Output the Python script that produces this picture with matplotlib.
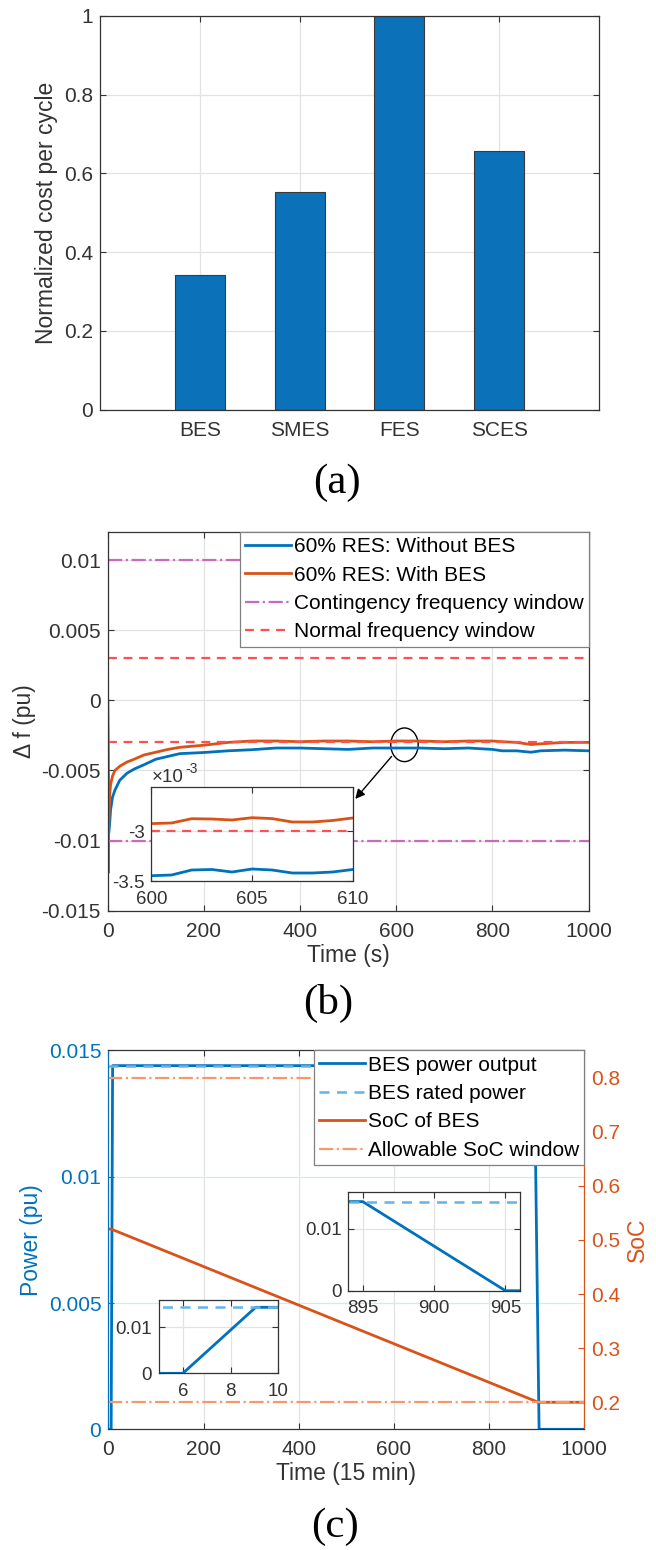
import numpy as np
import matplotlib.pyplot as plt
from matplotlib.patches import Ellipse

plt.rcParams['font.family'] = ['Liberation Sans', 'DejaVu Sans']
plt.rcParams['axes.unicode_minus'] = False

# (a) kustannukset
tekniikat = ['BES', 'SMES', 'FES', 'SCES']
kustannus = [0.341, 0.552, 1.0, 0.657]

# (b) taajuuspoikkeama
t_b = [0, 1, 2, 4, 6, 10, 15, 25, 40, 55, 75, 100, 125, 150, 200, 250, 300, 350, 400,
       450, 500, 550, 600, 650, 700, 750, 800, 820, 850, 880, 900, 950, 1000]
df_ilman = [0, -0.004, -0.0095, -0.0088, -0.0078, -0.0069, -0.0064, -0.0057, -0.0052, -0.0049,
            -0.0046, -0.0042, -0.0040, -0.0038, -0.00372, -0.0036, -0.00352, -0.0034, -0.0034,
            -0.00345, -0.0035, -0.0034, -0.0034, -0.0034, -0.00345, -0.0034, -0.0035, -0.0036,
            -0.0036, -0.0037, -0.0036, -0.00355, -0.0036]
df_kanssa = [0, -0.0123, -0.0090, -0.0068, -0.0060, -0.0054, -0.0050, -0.0047, -0.0044, -0.0042,
             -0.0039, -0.0037, -0.0035, -0.00335, -0.0032, -0.0030, -0.0029, -0.0029, -0.00295,
             -0.0029, -0.0029, -0.00295, -0.0029, -0.0029, -0.00295, -0.0029, -0.0029, -0.00295,
             -0.0030, -0.00315, -0.0031, -0.0030, -0.0030]
t_zoom = [600, 601, 602, 603, 604, 605, 606, 607, 608, 609, 610]
zoom_ilman = [-3.447e-3, -3.44e-3, -3.39e-3, -3.385e-3, -3.41e-3, -3.38e-3, -3.39e-3, -3.42e-3,
              -3.42e-3, -3.41e-3, -3.385e-3]
zoom_kanssa = [-2.926e-3, -2.92e-3, -2.877e-3, -2.88e-3, -2.89e-3, -2.867e-3, -2.876e-3, -2.91e-3,
               -2.91e-3, -2.895e-3, -2.87e-3]
hataraja = [0.01, -0.01]
normaaliraja = [0.003, -0.003]

# (c) akun teho ja varaustila
t_c = [0, 6, 9.05, 895, 905, 1000]
teho = [0, 0, 0.0144, 0.0144, 0, 0]
nimellisteho = 0.0144
t_soc = [0, 6, 903, 1000]
soc = [0.52, 0.52, 0.2, 0.2]
soc_raja = [0.8, 0.2]

sininen = '#0072BD'
oranssi = '#D95319'
harmaa = '#333333'
ruudukko = '#e3e3e3'


def muotoile(ax, koko=15, xpad=8, ypad=5):
    ax.tick_params(direction='in', top=True, right=True, labelsize=koko, colors=harmaa,
                   length=4, width=0.8)
    ax.tick_params(axis='x', pad=xpad)
    ax.tick_params(axis='y', pad=ypad)
    for s in ax.spines.values():
        s.set_color(harmaa)
        s.set_linewidth(0.9)
    ax.grid(True, color=ruudukko, linewidth=0.9)
    ax.set_axisbelow(True)


def selite(ax, kahvat, tekstit):
    leg = ax.legend(kahvat, tekstit, loc='upper right', fontsize=15, fancybox=False,
                    framealpha=1, edgecolor='#808080', borderaxespad=0, handlelength=2.2,
                    handletextpad=0.15, labelspacing=0.45, borderpad=0.25)
    leg.get_frame().set_linewidth(0.9)
    return leg


fig = plt.figure(figsize=(6.56, 15.5), dpi=100)

# ---------- (a)
ax_a = fig.add_axes([0.1524, 0.7358, 0.7607, 0.2539])
ax_a.bar(np.arange(1, 5), kustannus, width=0.5, color='#0B72BA', edgecolor='#3a3a3a', linewidth=0.8)
ax_a.set_xlim(0, 5)
ax_a.set_ylim(0, 1)
ax_a.set_xticks(np.arange(1, 5))
ax_a.set_xticklabels(tekniikat)
ax_a.set_yticks([0, 0.2, 0.4, 0.6, 0.8, 1])
ax_a.set_yticklabels(['0', '0.2', '0.4', '0.6', '0.8', '1'])
muotoile(ax_a)
ax_a.set_ylabel('Normalized cost per cycle', fontsize=16.5, color=harmaa)
fig.text(0.5137, 0.6884, '(a)', fontsize=31, family='Liberation Serif', ha='center', va='center')

# ---------- (b)
ax_b = fig.add_axes([0.1642, 0.41245, 0.7332, 0.2443])
l1, = ax_b.plot(t_b, df_ilman, color=sininen, linewidth=2)
l2, = ax_b.plot(t_b, df_kanssa, color=oranssi, linewidth=2)
l3 = None
for r in hataraja:
    l3, = ax_b.plot([0, 1000], [r, r], color='#C86BBA', linestyle='-.', linewidth=1.6)
for r in normaaliraja:
    l4, = ax_b.plot([0, 1000], [r, r], color='#FF4F4F', linestyle='--', linewidth=1.6, dashes=(4, 3))
ax_b.set_xlim(0, 1000)
ax_b.set_ylim(-0.015, 0.012)
ax_b.set_xticks([0, 200, 400, 600, 800, 1000])
ax_b.set_yticks([-0.015, -0.01, -0.005, 0, 0.005, 0.01])
ax_b.set_yticklabels(['-0.015', '-0.01', '-0.005', '0', '0.005', '0.01'])
muotoile(ax_b)
ax_b.set_xlabel('Time (s)', fontsize=16.5, color=harmaa, labelpad=2)
ax_b.set_ylabel('Δ f (pu)', fontsize=16.5, color=harmaa)
selite(ax_b, [l1, l2, l3, l4],
       ['60% RES: Without BES', '60% RES: With BES',
        'Contingency frequency window', 'Normal frequency window'])
ax_b.add_patch(Ellipse((617, -0.00317), 57, 0.0024, fill=False, edgecolor='black', linewidth=1))
ax_b.annotate('', xy=(511, -0.00718), xytext=(594, -0.00385),
              arrowprops=dict(arrowstyle='-|>', color='black', lw=1, mutation_scale=14))
fig.text(0.5, 0.3529, '(b)', fontsize=31, family='Liberation Serif', ha='center', va='center')

ax_bi = fig.add_axes([0.2309, 0.43161, 0.3067, 0.06065])
ax_bi.plot(t_zoom, zoom_ilman, color=sininen, linewidth=2)
ax_bi.plot(t_zoom, zoom_kanssa, color=oranssi, linewidth=2)
ax_bi.plot([600, 610], [-0.003, -0.003], color='#FF4F4F', linestyle='--', linewidth=1.6, dashes=(4, 3))
ax_bi.set_xlim(600, 610)
ax_bi.set_ylim(-3.5e-3, -2.56e-3)
ax_bi.set_xticks([600, 605, 610])
ax_bi.set_yticks([-3.5e-3, -3e-3])
ax_bi.set_yticklabels(['-3.5', '-3'])
muotoile(ax_bi, 13.5, xpad=7, ypad=5)
ax_bi.text(0.0, 1.1, '×10', transform=ax_bi.transAxes, fontsize=13.5, color=harmaa, va='center')
ax_bi.text(0.17, 1.19, '-3', transform=ax_bi.transAxes, fontsize=10, color=harmaa, va='center')

# ---------- (c)
ax_c = fig.add_axes([0.1651, 0.07787, 0.7256, 0.2444])
p1, = ax_c.plot(t_c, teho, color=sininen, linewidth=2)
p2, = ax_c.plot([0, 1000], [nimellisteho, nimellisteho], color='#66B3E6', linestyle='--',
                linewidth=1.8, dashes=(4, 3))
ax_c.set_xlim(0, 1000)
ax_c.set_ylim(0, 0.015)
ax_c.set_xticks([0, 200, 400, 600, 800, 1000])
ax_c.set_yticks([0, 0.005, 0.01, 0.015])
ax_c.set_yticklabels(['0', '0.005', '0.01', '0.015'])
ax_c.tick_params(direction='in', top=True, right=False, labelsize=15, length=4, width=0.8)
ax_c.tick_params(axis='x', colors=harmaa, pad=8)
ax_c.tick_params(axis='y', colors=sininen, pad=5)
ax_c.grid(True, axis='x', color=ruudukko, linewidth=0.9)
ax_c.grid(True, axis='y', color='#d6e8f5', linewidth=0.9)
ax_c.set_axisbelow(True)
ax_c.set_xlabel('Time (15 min)', fontsize=16.5, color=harmaa, labelpad=2)
ax_c.set_ylabel('Power (pu)', fontsize=16.5, color=sininen)

ax_s = ax_c.twinx()
p3, = ax_s.plot(t_soc, soc, color=oranssi, linewidth=2)
p4 = None
for r in soc_raja:
    p4, = ax_s.plot([0, 1000], [r, r], color='#F7976A', linestyle='-.', linewidth=1.6)
ax_s.set_ylim(0.15, 0.85)
ax_s.set_yticks([0.2, 0.3, 0.4, 0.5, 0.6, 0.7, 0.8])
ax_s.set_yticklabels(['0.2', '0.3', '0.4', '0.5', '0.6', '0.7', '0.8'])
ax_s.tick_params(direction='in', labelsize=15, colors=oranssi, length=4, width=0.8, pad=5)
ax_s.set_ylabel('SoC', fontsize=16.5, color=oranssi)
for a in (ax_c, ax_s):
    a.spines['top'].set_color(harmaa)
    a.spines['bottom'].set_color(harmaa)
    a.spines['left'].set_color(sininen)
    a.spines['right'].set_color(oranssi)
selite(ax_s, [p1, p2, p3, p4],
       ['BES power output', 'BES rated power', 'SoC of BES', 'Allowable SoC window'])
fig.text(0.51, 0.0148, '(c)', fontsize=31, family='Liberation Serif', ha='center', va='center')

# pienet ikkunat
ax_c1 = fig.add_axes([0.2424, 0.1140, 0.1819, 0.0473])
ax_c1.plot(t_c, teho, color=sininen, linewidth=2)
ax_c1.plot([0, 1000], [nimellisteho, nimellisteho], color='#66B3E6', linestyle='--',
           linewidth=1.8, dashes=(4, 3))
ax_c1.set_xlim(5, 10)
ax_c1.set_ylim(0, 0.016)
ax_c1.set_xticks([6, 8, 10])
ax_c1.set_yticks([0, 0.01])
ax_c1.set_yticklabels(['0', '0.01'])
muotoile(ax_c1, 13.5, xpad=7, ypad=5)

ax_c2 = fig.add_axes([0.5312, 0.16729, 0.2610, 0.06387])
ax_c2.plot(t_c, teho, color=sininen, linewidth=2)
ax_c2.plot([0, 1000], [nimellisteho, nimellisteho], color='#66B3E6', linestyle='--',
           linewidth=1.8, dashes=(4, 3))
ax_c2.set_xlim(894, 906)
ax_c2.set_ylim(0, 0.016)
ax_c2.set_xticks([895, 900, 905])
ax_c2.set_yticks([0, 0.01])
ax_c2.set_yticklabels(['0', '0.01'])
muotoile(ax_c2, 13.5, xpad=7, ypad=5)

fig.savefig('out.png', dpi=100)
